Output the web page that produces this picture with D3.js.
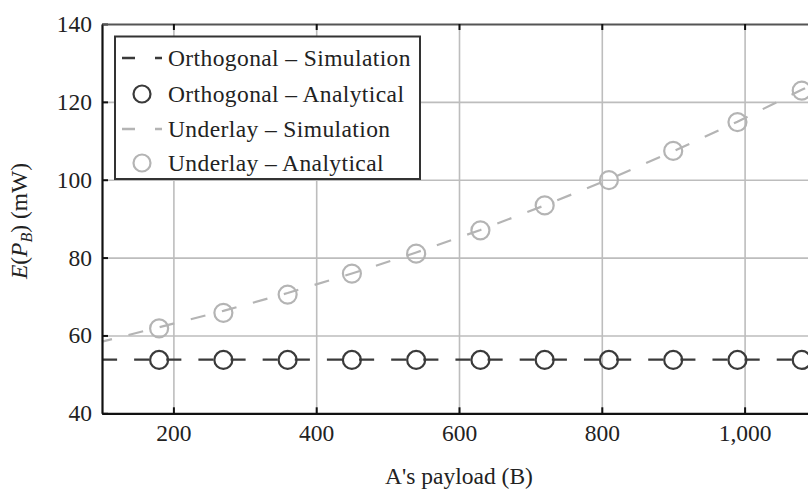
<!DOCTYPE html>
<html><head><meta charset="utf-8">
<script src="https://cdn.jsdelivr.net/npm/d3@7"></script>
<style>
html,body{margin:0;padding:0;background:#fff;overflow:hidden}
svg{display:block}
text{font-family:"Liberation Serif","DejaVu Serif",serif;fill:#222}
</style></head>
<body>
<script>
// ---- data ----
const payloads = [180, 270, 360, 450, 540, 630, 720, 810, 900, 990, 1080];
const simPayloads = [100, 180, 270, 360, 450, 540, 630, 720, 810, 900, 990, 1080, 1100];
const orthoSim = [53.8, 53.8, 53.8, 53.8, 53.8, 53.8, 53.8, 53.8, 53.8, 53.8, 53.8, 53.8, 53.8];
const orthoAna = [53.7, 53.7, 53.7, 53.7, 53.7, 53.7, 53.7, 53.7, 53.7, 53.7, 53.7];
const underSim = [58.4, 62.1, 66.3, 70.9, 75.9, 81.3, 87.1, 93.4, 100.1, 107.3, 114.9, 123.1, 124.9];
const underAna = [61.8, 65.8, 70.5, 75.9, 81.0, 87.0, 93.4, 99.9, 107.4, 114.8, 122.9];
const xTicks = [200, 400, 600, 800, 1000];
const yTicks = [40, 60, 80, 100, 120, 140];
const legendLabels = ["Orthogonal \u2013 Simulation", "Orthogonal \u2013 Analytical", "Underlay \u2013 Simulation", "Underlay \u2013 Analytical"];

// ---- layout ----
const W = 808, H = 489;
const m = {left: 102, top: 24};
const pw = 714, ph = 389.3;
const dark = "#3a3a3a", light = "#b4b4b4";
const FS = "23.5px";

const svg = d3.select("body").append("svg").attr("width", W).attr("height", H);
const g = svg.append("g").attr("transform", `translate(${m.left},${m.top})`);

const x = d3.scaleLinear().domain([100, 1100]).range([0, pw]);
const y = d3.scaleLinear().domain([40, 140]).range([ph, 0]);

// grid
const gx = g.append("g").attr("transform", `translate(0,${ph})`)
  .call(d3.axisBottom(x).tickValues(xTicks).tickSize(-ph).tickFormat(""));
gx.select(".domain").remove();
gx.selectAll("line").attr("stroke", "#bdbdbd").attr("stroke-width", 1.6);
const gy = g.append("g")
  .call(d3.axisLeft(y).tickValues([60, 80, 100, 120]).tickSize(-pw).tickFormat(""));
gy.select(".domain").remove();
gy.selectAll("line").attr("stroke", "#bdbdbd").attr("stroke-width", 1.6);

// data lines (dash period = half the marker spacing)
const period = x(145) - x(100);
const dashA = `${period*0.47},${period*0.53}`;
const lineGen = d3.line().x(d => x(d[0])).y(d => y(d[1]));
g.append("path").datum(simPayloads.map((p, i) => [p, underSim[i]]))
  .attr("d", lineGen).attr("fill", "none").attr("stroke", light).attr("stroke-width", 2.2)
  .attr("stroke-dasharray", dashA).attr("stroke-dashoffset", period*0.15);
g.append("path").datum(simPayloads.map((p, i) => [p, orthoSim[i]]))
  .attr("d", lineGen).attr("fill", "none").attr("stroke", dark).attr("stroke-width", 2.2)
  .attr("stroke-dasharray", dashA);

g.selectAll("circle.ua").data(payloads).enter().append("circle").attr("class", "ua")
  .attr("cx", d => x(d)).attr("cy", (d, i) => y(underAna[i])).attr("r", 9)
  .attr("fill", "none").attr("stroke", light).attr("stroke-width", 2.2);
g.selectAll("circle.oa").data(payloads).enter().append("circle").attr("class", "oa")
  .attr("cx", d => x(d)).attr("cy", (d, i) => y(orthoAna[i])).attr("r", 9)
  .attr("fill", "none").attr("stroke", dark).attr("stroke-width", 2.2);

// axes
const ax = g.append("g").attr("transform", `translate(0,${ph})`)
  .call(d3.axisBottom(x).tickValues(xTicks).tickSizeInner(-6).tickSizeOuter(0).tickPadding(11).tickFormat(d3.format(",")));
ax.select(".domain").attr("stroke", "#111").attr("stroke-width", 2.2);
ax.selectAll("line").attr("stroke", "#111").attr("stroke-width", 2);
ax.selectAll("text").style("font-size", FS).attr("fill", "#222");

const ay = g.append("g")
  .call(d3.axisLeft(y).tickValues(yTicks).tickSizeInner(-6).tickSizeOuter(0).tickPadding(10));
ay.select(".domain").attr("stroke", "#111").attr("stroke-width", 2.2);
ay.selectAll("line").attr("stroke", "#111").attr("stroke-width", 2);
ay.selectAll("text").style("font-size", FS).attr("fill", "#222");

const at = g.append("g")
  .call(d3.axisTop(x).tickValues(xTicks).tickSizeInner(-6).tickSizeOuter(0).tickFormat(""));
at.select(".domain").attr("stroke", "#555").attr("stroke-width", 2);
at.selectAll("line").attr("stroke", "#111").attr("stroke-width", 2);

// axis titles
svg.append("text").attr("x", 459).attr("y", 484).attr("text-anchor", "middle")
  .style("font-size", FS).text("A's payload (B)");
const yl = svg.append("text").attr("transform", "translate(27,221) rotate(-90)")
  .attr("text-anchor", "middle").style("font-size", FS);
yl.append("tspan").style("font-style", "italic").text("E");
yl.append("tspan").text("(");
yl.append("tspan").style("font-style", "italic").text("P");
yl.append("tspan").style("font-style", "italic").style("font-size", "16px").attr("dy", 5).text("B");
yl.append("tspan").attr("dy", -5).text(") (mW)");

// legend
const lg = svg.append("g");
lg.append("rect").attr("x", 115).attr("y", 36.5).attr("width", 305).attr("height", 142.5)
  .attr("fill", "#fff").attr("stroke", "#333").attr("stroke-width", 2);
const rowsY = [58, 94, 129, 163];
const legStyles = [
  {type: "line", color: dark}, {type: "circle", color: dark},
  {type: "line", color: light}, {type: "circle", color: light}
];
legendLabels.forEach((lab, i) => {
  const ry = rowsY[i], s = legStyles[i];
  if (s.type === "line") {
    lg.append("line").attr("x1", 122).attr("x2", 162).attr("y1", ry).attr("y2", ry)
      .attr("stroke", s.color).attr("stroke-width", 2.4).attr("stroke-dasharray", "13,20");
  } else {
    lg.append("circle").attr("cx", 142).attr("cy", ry).attr("r", 8.5)
      .attr("fill", "none").attr("stroke", s.color).attr("stroke-width", 2.2);
  }
  lg.append("text").attr("x", 168).attr("y", ry).attr("dy", "0.34em")
    .style("font-size", FS).style("letter-spacing", "0.4px").text(lab);
});
</script>
</body></html>
